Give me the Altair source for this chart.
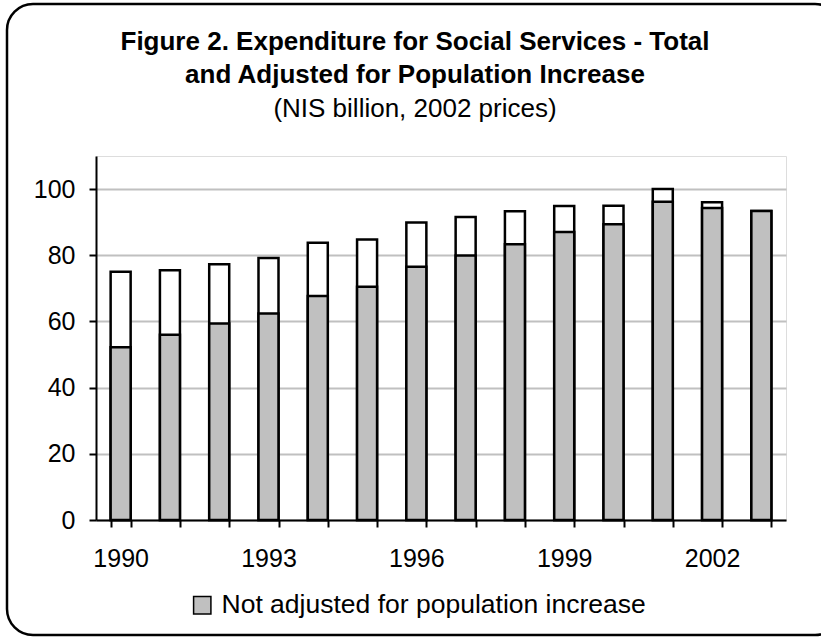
import altair as alt
import pandas as pd

years = [1990, 1991, 1992, 1993, 1994, 1995, 1996, 1997, 1998, 1999, 2000, 2001, 2002, 2003]
not_adjusted = [52.2, 56.0, 59.4, 62.4, 67.7, 70.5, 76.5, 79.9, 83.3, 87.0, 89.4, 96.2, 94.3, 93.4]
adjusted = [75.0, 75.5, 77.3, 79.2, 83.8, 84.8, 89.9, 91.6, 93.3, 94.9, 95.0, 100.0, 96.0, 93.4]
legend_label = "Not adjusted for population increase"
y_ticks = [0, 20, 40, 60, 80, 100]
title_lines = ["Figure 2. Expenditure for Social Services - Total",
               "and Adjusted for Population Increase"]
subtitle_line = "(NIS billion, 2002 prices)"

df = pd.DataFrame({
    "year": years,
    "not_adjusted": not_adjusted,
    "adjusted": adjusted,
    "series": [legend_label] * len(years),
})

FONT = "Liberation Sans"
W, H = 690, 364

x = alt.X(
    "year:O",
    scale=alt.Scale(paddingInner=0.594, paddingOuter=0.297),
    axis=alt.Axis(
        title=None,
        labelAngle=0,
        tickBand="extent",
        labelExpr="(datum.value - 1990) % 3 == 0 ? datum.label : ''",
        domainColor="black", domainWidth=2,
        tickColor="black", tickWidth=2, tickSize=7,
        labelFont=FONT, labelFontSize=25, labelColor="black",
        labelPadding=19,
    ),
)

yscale = alt.Scale(domain=[0, 110], nice=False)

white = alt.Chart(df).mark_bar(
    fill="white", stroke="black", strokeWidth=2.5
).encode(
    x=x,
    y=alt.Y(
        "adjusted:Q",
        scale=yscale,
        axis=alt.Axis(
            title=None, values=y_ticks,
            grid=True, gridColor="#c0c0c0", gridWidth=2,
            domainColor="black", domainWidth=2,
            tickColor="black", tickWidth=2, tickSize=7,
            labelFont=FONT, labelFontSize=25, labelColor="black",
            labelPadding=14,
        ),
    ),
)

grey = alt.Chart(df).mark_bar(
    stroke="black", strokeWidth=2.5
).encode(
    x=x,
    y=alt.Y("not_adjusted:Q", scale=yscale),
    color=alt.Color(
        "series:N",
        scale=alt.Scale(domain=[legend_label], range=["#c0c0c0"]),
        legend=alt.Legend(
            title=None, orient="none", legendX=93, legendY=436,
            symbolType="square", symbolSize=300,
            symbolStrokeColor="black", symbolStrokeWidth=1.5,
            symbolFillColor="#c0c0c0",
            labelFont=FONT, labelFontSize=26.5, labelColor="black",
            labelLimit=600, labelOffset=6,
        ),
    ),
)

frame = alt.Chart(pd.DataFrame({"a": [0]})).mark_rect(
    fillOpacity=0, stroke="black", strokeWidth=2.5, cornerRadius=26, clip=False
).encode(
    x=alt.value(-89), x2=alt.value(745),
    y=alt.value(-152), y2=alt.value(479),
)

title_layers = []
for txt, yy, bold in [(title_lines[0], -106, True),
                      (title_lines[1], -73, True),
                      (subtitle_line, -39, False)]:
    title_layers.append(
        alt.Chart(pd.DataFrame({"a": [0]})).mark_text(
            text=txt, font=FONT, fontSize=26,
            fontWeight="bold" if bold else "normal",
            color="black", align="center", baseline="alphabetic", clip=False,
        ).encode(x=alt.value(319), y=alt.value(yy))
    )

chart = alt.layer(white, grey, frame, *title_layers).properties(
    width=W, height=H,
    autosize=alt.AutoSizeParams(type="none"),
    padding={"left": 96, "top": 156, "right": 35, "bottom": 117},
).configure_view(
    stroke="#c0c0c0", strokeWidth=2
).configure(background="white")

chart.save("out.html", embed_options={"renderer": "svg", "actions": False})
